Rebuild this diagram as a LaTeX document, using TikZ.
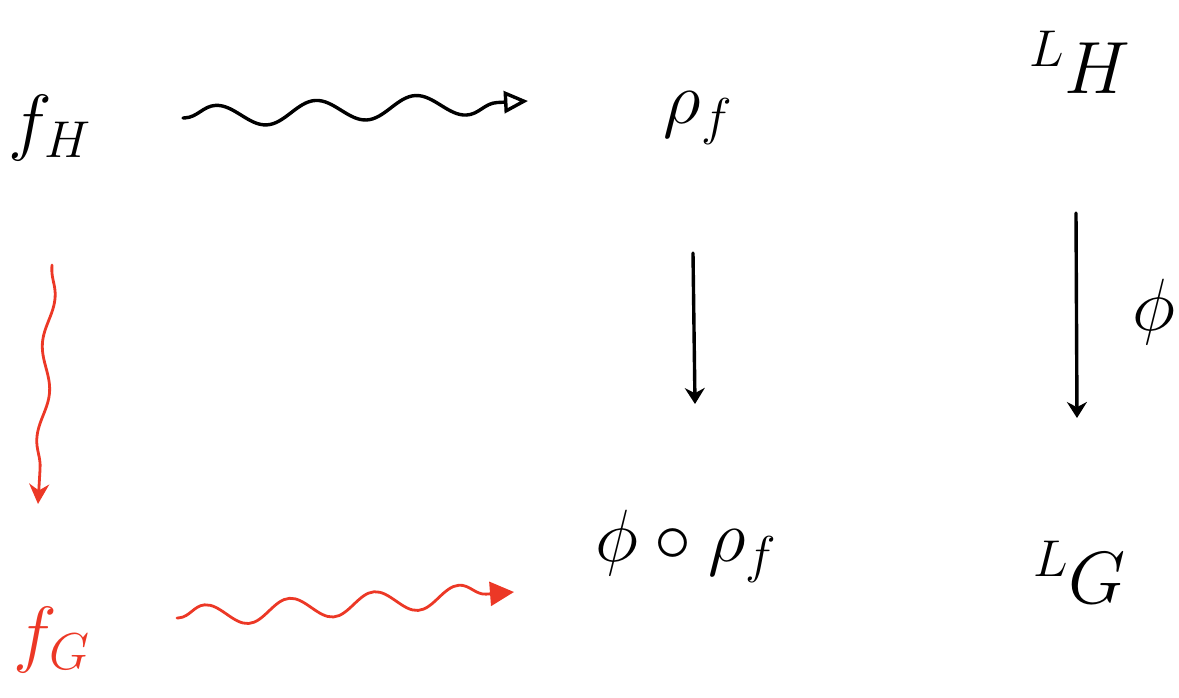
\RequirePackage{fix-cm}
\documentclass[tikz,border=0pt]{standalone}
\usetikzlibrary{arrows.meta,decorations.pathmorphing}
\definecolor{penred}{RGB}{236,56,38}
\begin{document}
\begin{tikzpicture}[x=1pt,y=-1pt,
  lbl/.style={inner sep=0pt, font=\fontsize{74}{74}\selectfont},
  ink/.style={line width=3.4pt, line cap=round, line join=round},
  redink/.style={ink, draw=penred, line width=2.8pt},
  wavy/.style n args={2}{decorate, decoration={snake, amplitude=#1, segment length=#2, pre length=2pt, post length=24pt}},
]
\useasboundingbox (0,0) rectangle (1179,698);
% labels
\node[lbl] (fH) at (50,128) {$f_H$};
\node[lbl] (rho) at (698,118) {$\rho_f$};
\node[lbl] (LH) at (1080,62) {${}^{L}H$};
\node[lbl] (comp) at (686,546) {$\phi\circ\rho_f$};
\node[lbl] (LG) at (1080,572) {${}^{L}G$};
\node[lbl, text=penred] (fG) at (52,640) {$f_G$};
\node[lbl] (phi) at (1154,312) {$\phi$};
% arrow end points
\coordinate (t1) at (183,118);
\coordinate (t2) at (528,101);
\coordinate (v1) at (52,265);
\coordinate (v2) at (38,504);
\coordinate (b1) at (177,618);
\coordinate (b2) at (514,592);
\coordinate (m1) at (693,253);
\coordinate (m2) at (695,404);
\coordinate (r1) at (1076,213);
\coordinate (r2) at (1077,418);
% connectors
\draw[ink, wavy={11pt}{100pt}, -{Triangle[open,length=24pt,width=22pt]}] (t1) -- (t2);
\draw[redink, wavy={5pt}{95pt}, -{Stealth[length=20pt,width=20pt]}] (v1) -- (v2);
\draw[redink, wavy={11pt}{85pt}, -{Triangle[length=24pt,width=24pt]}] (b1) -- (b2);
\draw[ink, -{Stealth[length=16pt,width=20pt]}] (m1) -- (m2);
\draw[ink, -{Stealth[length=16pt,width=20pt]}] (r1) -- (r2);
\end{tikzpicture}
\end{document}
